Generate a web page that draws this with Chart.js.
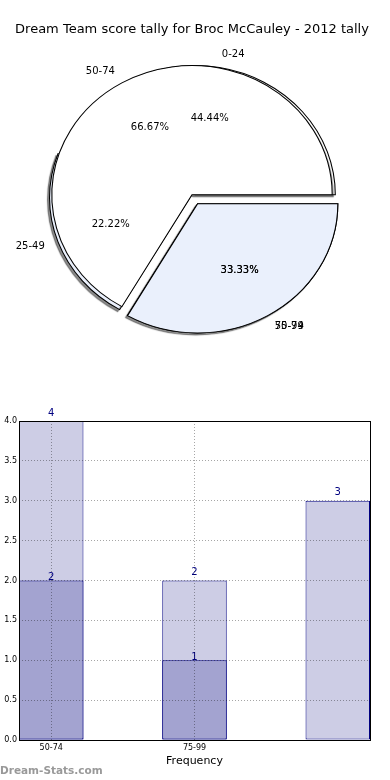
<!DOCTYPE html>
<html lang="en">
<head>
<meta charset="UTF-8">
<title>Dream Team score tally - Broc McCauley</title>
<style>
    html, body { margin: 0; padding: 0; background: #fff; }
    body { width: 390px; height: 780px; position: relative; overflow: hidden; font-family: 'DejaVu Sans', sans-serif; }
    #pieWrap { position: absolute; left: 0; top: 0; width: 390px; height: 390px; }
    #barWrap { position: absolute; left: 0; top: 390px; width: 390px; height: 390px; }
    .watermark { position: absolute; left: 0; top: 764px; font-size: 10.5px; font-weight: bold; color: #999; white-space: nowrap; }
</style>
</head>
<body>
<div id="pieWrap"><canvas id="pieChart"></canvas></div>
<div id="barWrap"><canvas id="barChart"></canvas></div>
<div class="watermark">Dream-Stats.com</div>

<script src="https://cdn.jsdelivr.net/npm/chart.js"></script>
<script>
// data
const pieTitle = 'Dream Team score tally for Broc McCauley - 2012 tally';
const pieLabelsA = ['0-24', '25-49', '50-74'];
const pieValuesA = [4, 2, 3];
const pieLabelsB = ['50-74', '75-99'];
const pieValuesB = [6, 3];

const barTickLabels = ['50-74', '75-99'];
const barTotals = [4, 2, 3];
const barInner = [2, 1, null];
const barAxisTitle = 'Frequency';

Chart.defaults.font.family = "'DejaVu Sans', sans-serif";
Chart.defaults.color = '#000';

// matplotlib style pie: starts at 3 o'clock, goes counter clockwise
// chart.js goes clockwise, so feed the slices reversed and rotate by 90
const rev = (arr) => arr.slice().reverse();
const lightBlue = '#eaf0fc';
const ELLIPSE_X = 140 / 129;

const mplPie = {
    id: 'mplPie',
    beforeDatasetsDraw(chart) {
        const a = chart.chartArea;
        const cx = (a.left + a.right) / 2, cy = (a.top + a.bottom) / 2;
        const r = (a.bottom - a.top) / 2;
        chart.data.datasets.forEach((ds, di) => {
            chart.getDatasetMeta(di).data.forEach((arc, i) => {
                // explode along the slice middle unless a direction (math degrees) is given
                const dir = ds.explodeDir[i];
                const ang = dir === null ? (arc.startAngle + arc.endAngle) / 2 : -dir * Math.PI / 180;
                const e = ds.explode[i] * r;
                arc.x = cx + e * Math.cos(ang);
                arc.y = cy + e * Math.sin(ang);
                arc.innerRadius = 0;
                arc.outerRadius = r;
            });
        });
    },
    beforeDatasetDraw(chart, args) {
        const ctx = chart.ctx;
        const a = chart.chartArea;
        const cx = (a.left + a.right) / 2;
        ctx.save();
        ctx.translate(cx, 0);
        ctx.scale(ELLIPSE_X, 1);
        ctx.translate(-cx, 0);
        if (chart.data.datasets[args.index].shadow) {
            ctx.shadowColor = 'rgba(0,0,0,0.45)';
            ctx.shadowOffsetX = -2;
            ctx.shadowOffsetY = 2;
            ctx.shadowBlur = 1;
        }
    },
    afterDatasetDraw(chart) {
        chart.ctx.restore();
    },
    afterDatasetsDraw(chart) {
        const ctx = chart.ctx;
        const a = chart.chartArea;
        const cx = (a.left + a.right) / 2;
        const r = (a.bottom - a.top) / 2;
        ctx.save();
        ctx.font = "10px 'DejaVu Sans'";
        ctx.fillStyle = '#000';
        ctx.textBaseline = 'middle';
        chart.data.datasets.forEach((ds, di) => {
            const total = ds.data.reduce((s, v) => s + v, 0);
            chart.getDatasetMeta(di).data.forEach((arc, i) => {
                const mid = (arc.startAngle + arc.endAngle) / 2;
                const c = Math.cos(mid), s = Math.sin(mid);
                // slice name at 1.1 r
                ctx.textAlign = c > 0 ? 'left' : 'right';
                ctx.fillText(ds.sliceLabels[i],
                    cx + (arc.x - cx + 1.1 * r * c) * ELLIPSE_X,
                    arc.y + 1.1 * r * s);
                // percentage at 0.6 r
                ctx.textAlign = 'center';
                ctx.fillText((ds.data[i] / total * 100).toFixed(2) + '%',
                    cx + (arc.x - cx + 0.6 * r * c) * ELLIPSE_X,
                    arc.y + 0.6 * r * s);
            });
        });
        ctx.restore();
    }
};

new Chart(document.getElementById('pieChart'), {
    type: 'pie',
    data: {
        datasets: [
            {
                // drawn on top
                data: rev(pieValuesB),
                sliceLabels: rev(pieLabelsB),
                explode: rev([0, 0.08]),
                explodeDir: rev([null, null]),
                backgroundColor: rev(['#ffffff', lightBlue]),
                shadow: false
            },
            {
                data: rev(pieValuesA),
                sliceLabels: rev(pieLabelsA),
                explode: rev([0.022, 0.028, 0.08]),
                explodeDir: rev([0, 235, null]),
                backgroundColor: rev(['#ffffff', lightBlue, lightBlue]),
                shadow: true
            }
        ]
    },
    options: {
        animation: false,
        responsive: true,
        maintainAspectRatio: false,
        events: [],
        rotation: 90,
        layout: { padding: { top: 12, bottom: 66, left: 0, right: 6 } },
        datasets: {
            pie: {
                borderColor: '#000',
                borderWidth: 1,
                borderJoinStyle: 'miter',
                clip: false
            }
        },
        plugins: {
            legend: { display: false },
            tooltip: { enabled: false },
            title: {
                display: true,
                text: pieTitle,
                color: '#000',
                font: { size: 13, weight: 'normal' },
                padding: { top: 10, bottom: 28 }
            }
        }
    },
    plugins: [mplPie]
});

// bar chart
const frame = {
    id: 'frame',
    afterDraw(chart) {
        const { ctx, chartArea: a } = chart;
        ctx.save();
        ctx.strokeStyle = '#000';
        ctx.lineWidth = 1;
        ctx.strokeRect(Math.round(a.left) + 0.5, Math.round(a.top) + 0.5,
            Math.round(a.right - a.left), Math.round(a.bottom - a.top));
        ctx.restore();
    }
};

const valueLabels = {
    id: 'valueLabels',
    afterDatasetsDraw(chart) {
        const ctx = chart.ctx;
        ctx.save();
        ctx.font = "10px 'DejaVu Sans'";
        ctx.fillStyle = '#000080';
        ctx.textAlign = 'center';
        ctx.textBaseline = 'bottom';
        chart.data.datasets.forEach((ds, di) => {
            chart.getDatasetMeta(di).data.forEach((bar, i) => {
                const v = ds.data[i].y;
                if (v === null || v === undefined) return;
                ctx.fillText(String(v), bar.x, bar.y - ds.labelGap);
            });
        });
        ctx.restore();
    }
};

new Chart(document.getElementById('barChart'), {
    type: 'bar',
    data: {
        datasets: [
            {
                data: barInner.map((v, i) => ({ x: i, y: v })),
                backgroundColor: '#a3a3d0',
                labelGap: -2
            },
            {
                data: barTotals.map((v, i) => ({ x: i, y: v })),
                backgroundColor: '#cdcde5',
                labelGap: 3
            }
        ]
    },
    options: {
        animation: false,
        responsive: true,
        maintainAspectRatio: false,
        events: [],
        layout: { padding: { top: 31, right: 20, left: 0, bottom: 0 } },
        datasets: {
            bar: {
                grouped: false,
                categoryPercentage: 1,
                barPercentage: 0.45,
                borderColor: '#000080',
                borderWidth: 1,
                borderSkipped: false
            }
        },
        plugins: {
            legend: { display: false },
            tooltip: { enabled: false }
        },
        scales: {
            x: {
                type: 'linear',
                offset: false,
                min: -0.225,
                max: 2.225,
                afterBuildTicks: (scale) => {
                    scale.ticks = barTickLabels.map((_, i) => ({ value: i }));
                },
                afterFit: (scale) => { scale.height = 40; },
                ticks: {
                    callback: (value, index) => barTickLabels[index],
                    font: { size: 8 },
                    color: '#000',
                    padding: 3,
                    autoSkip: false,
                    maxRotation: 0
                },
                grid: { offset: false, color: 'rgba(0,0,0,0.35)', lineWidth: 1, drawTicks: false, z: 1 },
                border: { display: false, dash: [1, 2] },
                title: {
                    display: true,
                    text: barAxisTitle,
                    color: '#000',
                    font: { size: 11 },
                    padding: { top: 0, bottom: 12 }
                }
            },
            y: {
                min: 0,
                max: 4,
                afterFit: (scale) => { scale.width = 19; },
                ticks: {
                    stepSize: 0.5,
                    callback: (value) => value.toFixed(1),
                    font: { size: 8 },
                    color: '#000',
                    padding: 2
                },
                grid: { color: 'rgba(0,0,0,0.35)', lineWidth: 1, drawTicks: false, z: 1 },
                border: { display: false, dash: [1, 2] }
            }
        }
    },
    plugins: [frame, valueLabels]
});
</script>
</body>
</html>
